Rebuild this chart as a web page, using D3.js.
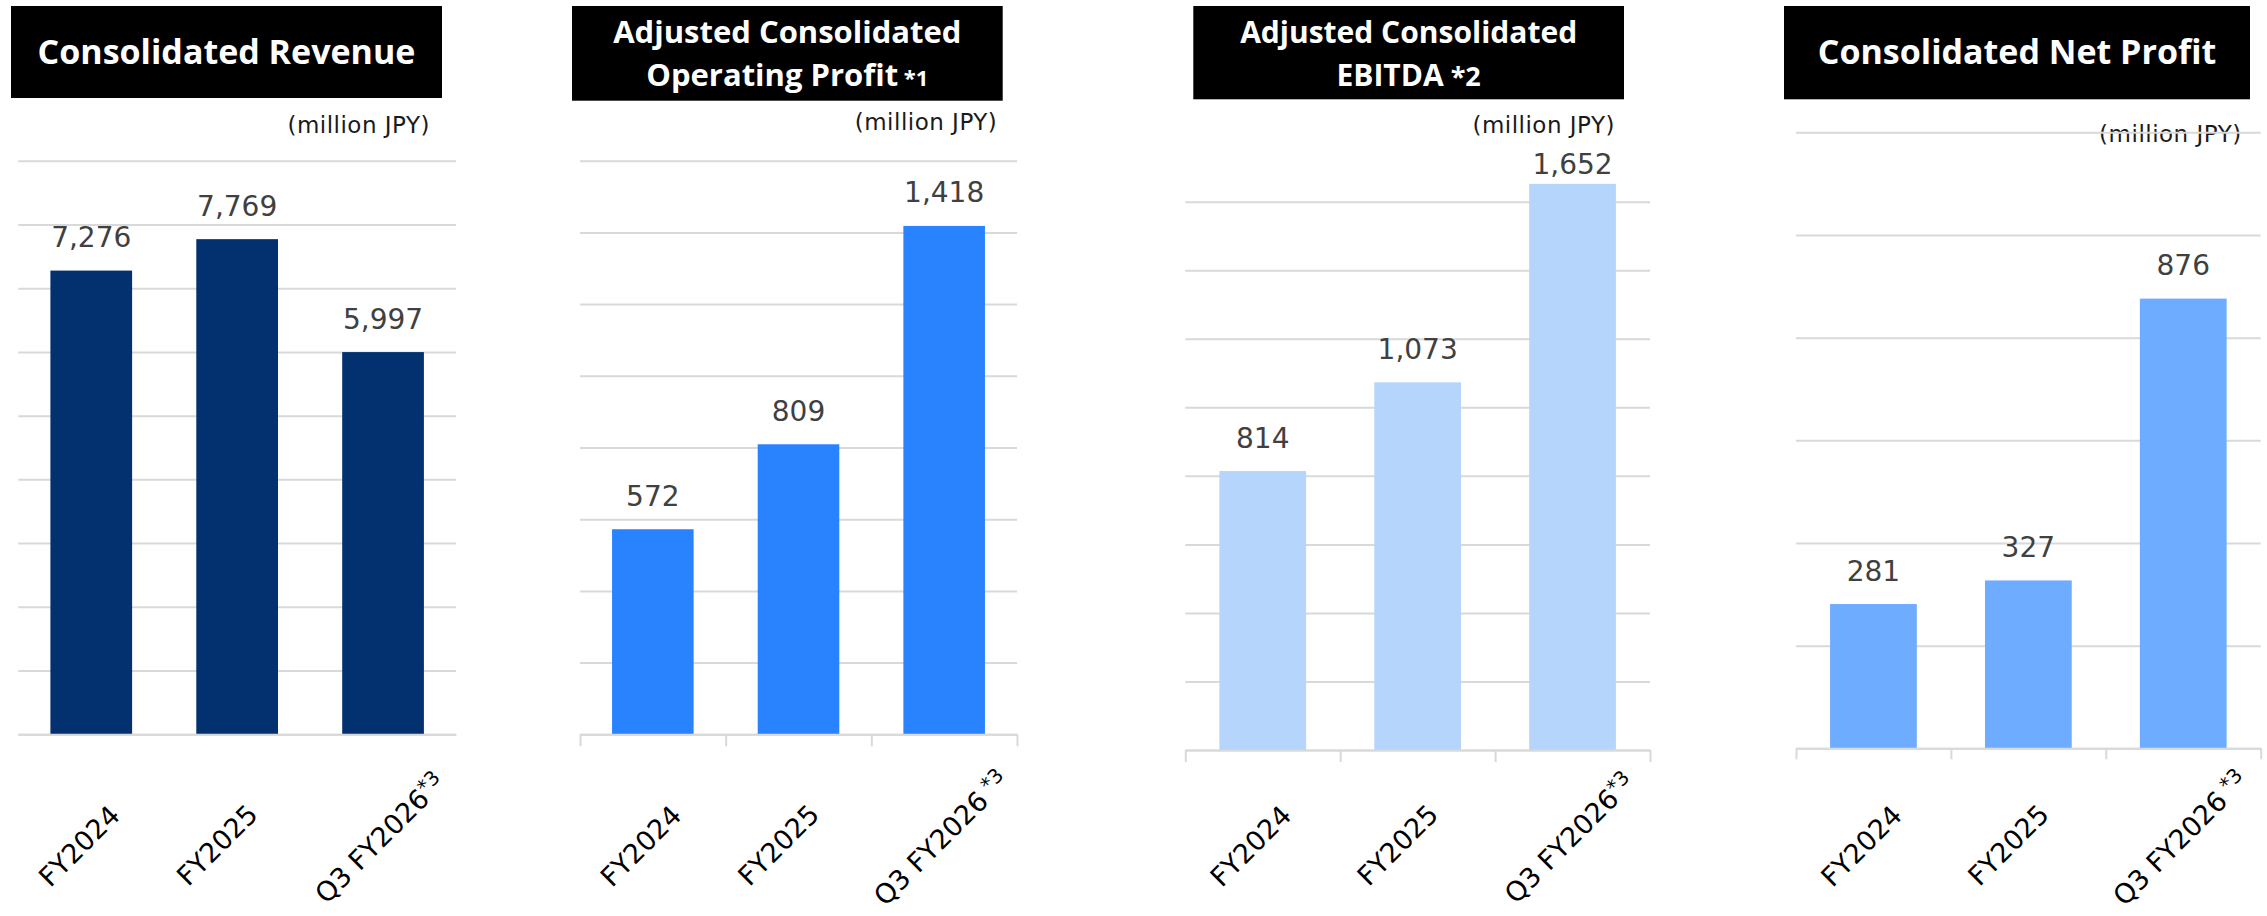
<!DOCTYPE html>
<html>
<head>
<meta charset="utf-8">
<script src="https://cdn.jsdelivr.net/npm/d3@7"></script>
<style>
  body { margin: 0; background: #ffffff; }
  svg { display: block; }
</style>
</head>
<body>
<svg id="chart" width="2267" height="916"></svg>
<script>
// ---- data ----
const categories = ["FY2024", "FY2025", "Q3 FY2026"];
const categoryNotes = ["", "", "*3"];
const revenue = [7276, 7769, 5997];
const operatingProfit = [572, 809, 1418];
const ebitda = [814, 1073, 1652];
const netProfit = [281, 327, 876];
const revenueTicks = [0, 1000, 2000, 3000, 4000, 5000, 6000, 7000, 8000, 9000];
const operatingTicks = [0, 200, 400, 600, 800, 1000, 1200, 1400, 1600];
const ebitdaTicks = [0, 200, 400, 600, 800, 1000, 1200, 1400, 1600];
const netTicks = [0, 200, 400, 600, 800, 1000, 1200];
const unitText = "(million JPY)";
const revenueTitle = [["Consolidated Revenue", ""]];
const operatingTitle = [["Adjusted Consolidated", ""], ["Operating Profit", "*1"]];
const ebitdaTitle = [["Adjusted Consolidated", ""], ["EBITDA", "*2"]];
const netTitle = [["Consolidated Net Profit", ""]];

// ---- layout of the four panels ----
const panels = [
  { title: revenueTitle, values: revenue, ticks: revenueTicks, color: "#03316f",
    box: [11, 442, 6, 98], titleSize: 34, noteSize: 34,
    plot: [18.3, 456, 160.7, 734.3], tick: 0, unit: [430, 133], noteSep: "", labelFloor: -Infinity },
  { title: operatingTitle, values: operatingProfit, ticks: operatingTicks, color: "#2983ff",
    box: [572, 1002.7, 6, 100.7], titleSize: 31, noteSize: 22,
    plot: [580, 1017, 160.7, 734.3], tick: 12, unit: [997.3, 130], noteSep: " ", labelFloor: -Infinity },
  { title: ebitdaTitle, values: ebitda, ticks: ebitdaTicks, color: "#b6d5fd",
    box: [1193.3, 1624, 6, 99.3], titleSize: 30, noteSize: 27,
    plot: [1185.3, 1650, 201.7, 750], tick: 12, unit: [1615, 133], noteSep: "", labelFloor: 174 },
  { title: netTitle, values: netProfit, ticks: netTicks, color: "#6eacff",
    box: [1784, 2250, 6, 99.3], titleSize: 34, noteSize: 34,
    plot: [1796, 2260.7, 132.3, 748.3], tick: 11, unit: [2241.7, 141.7], noteSep: " ", labelFloor: -Infinity }
];

// placement of the slanted category labels (centre offset from band centre, centre height)
const labelShiftX = [-12, -20, -3];
const labelCenterY = [846, 845, 838];

const svg = d3.select("#chart");
svg.append("rect").attr("width", 2267).attr("height", 916).attr("fill", "#ffffff");

const fmt = d3.format(",");
const gridColor = "#d9d9d9";

panels.forEach(p => {
  const g = svg.append("g");
  const [x0, x1, top, base] = p.plot;

  // title block
  const [bx0, bx1, by0, by1] = p.box;
  g.append("rect")
    .attr("x", bx0).attr("y", by0)
    .attr("width", bx1 - bx0).attr("height", by1 - by0)
    .attr("fill", "#000000");
  const lineGap = 43;
  const midY = (by0 + by1) / 2;
  const firstBase = midY + 11.5 - (p.title.length - 1) * lineGap / 2;
  p.title.forEach((line, i) => {
    const t = g.append("text")
      .attr("x", (bx0 + bx1) / 2)
      .attr("y", firstBase + i * lineGap)
      .attr("text-anchor", "middle")
      .attr("font-family", "'Open Sans', sans-serif")
      .attr("font-weight", 700)
      .attr("font-size", p.titleSize)
      .attr("fill", "#ffffff");
    t.append("tspan").text(line[0]);
    if (line[1]) {
      t.append("tspan").attr("font-size", p.noteSize).text(" " + line[1]);
    }
  });

  // unit caption
  g.append("text")
    .attr("x", p.unit[0]).attr("y", p.unit[1])
    .attr("text-anchor", "end")
    .attr("font-family", "'DejaVu Sans', sans-serif")
    .attr("font-size", 23)
    .attr("letter-spacing", 0.5)
    .attr("fill", "#1a1a1a")
    .text(unitText);

  // scales
  const y = d3.scaleLinear()
    .domain([0, p.ticks[p.ticks.length - 1]])
    .range([base, top]);
  const x = d3.scaleBand()
    .domain(categories)
    .range([x0, x1])
    .paddingInner(0.44)
    .paddingOuter(0.22);
  const edges = d3.scaleLinear().domain([0, categories.length]).range([x0, x1]);

  // horizontal gridlines
  const grid = g.append("g")
    .attr("transform", `translate(${x0},0)`)
    .call(d3.axisLeft(y).tickValues(p.ticks).tickSize(-(x1 - x0)).tickFormat(""));
  grid.select(".domain").remove();
  grid.selectAll(".tick line").attr("stroke", gridColor).attr("stroke-width", 2);

  // bars
  g.selectAll("rect.bar")
    .data(p.values)
    .join("rect")
    .attr("class", "bar")
    .attr("x", (d, i) => x(categories[i]))
    .attr("width", x.bandwidth())
    .attr("y", d => y(d))
    .attr("height", d => base - y(d))
    .attr("fill", p.color);

  // category axis with dividers between categories
  const xAxis = g.append("g")
    .attr("transform", `translate(0,${base})`)
    .call(d3.axisBottom(edges)
      .tickValues(d3.range(categories.length + 1))
      .tickSize(p.tick).tickSizeOuter(0).tickFormat(""));
  xAxis.select(".domain").attr("stroke", gridColor).attr("stroke-width", 2);
  xAxis.selectAll(".tick line").attr("stroke", gridColor).attr("stroke-width", 2);

  // value labels
  g.selectAll("text.value")
    .data(p.values)
    .join("text")
    .attr("class", "value")
    .attr("x", (d, i) => x(categories[i]) + x.bandwidth() / 2)
    .attr("y", d => Math.max(y(d) - 23.5, p.labelFloor))
    .attr("text-anchor", "middle")
    .attr("font-family", "'DejaVu Sans', sans-serif")
    .attr("font-size", 28)
    .attr("fill", "#404040")
    .text(d => fmt(d));

  // slanted category labels
  categories.forEach((c, i) => {
    const cx = x(c) + x.bandwidth() / 2 + labelShiftX[i];
    const t = g.append("text")
      .attr("transform", `translate(${cx},${labelCenterY[i]}) rotate(-45)`)
      .attr("text-anchor", "middle")
      .attr("font-family", "'DejaVu Sans', sans-serif")
      .attr("font-size", 27)
      .attr("fill", "#000000");
    t.append("tspan").attr("dy", "0.35em").text(c);
    if (categoryNotes[i]) {
      t.append("tspan").attr("font-size", 20).attr("dy", -8)
        .text(p.noteSep + categoryNotes[i]);
    }
  });
});
</script>
</body>
</html>
